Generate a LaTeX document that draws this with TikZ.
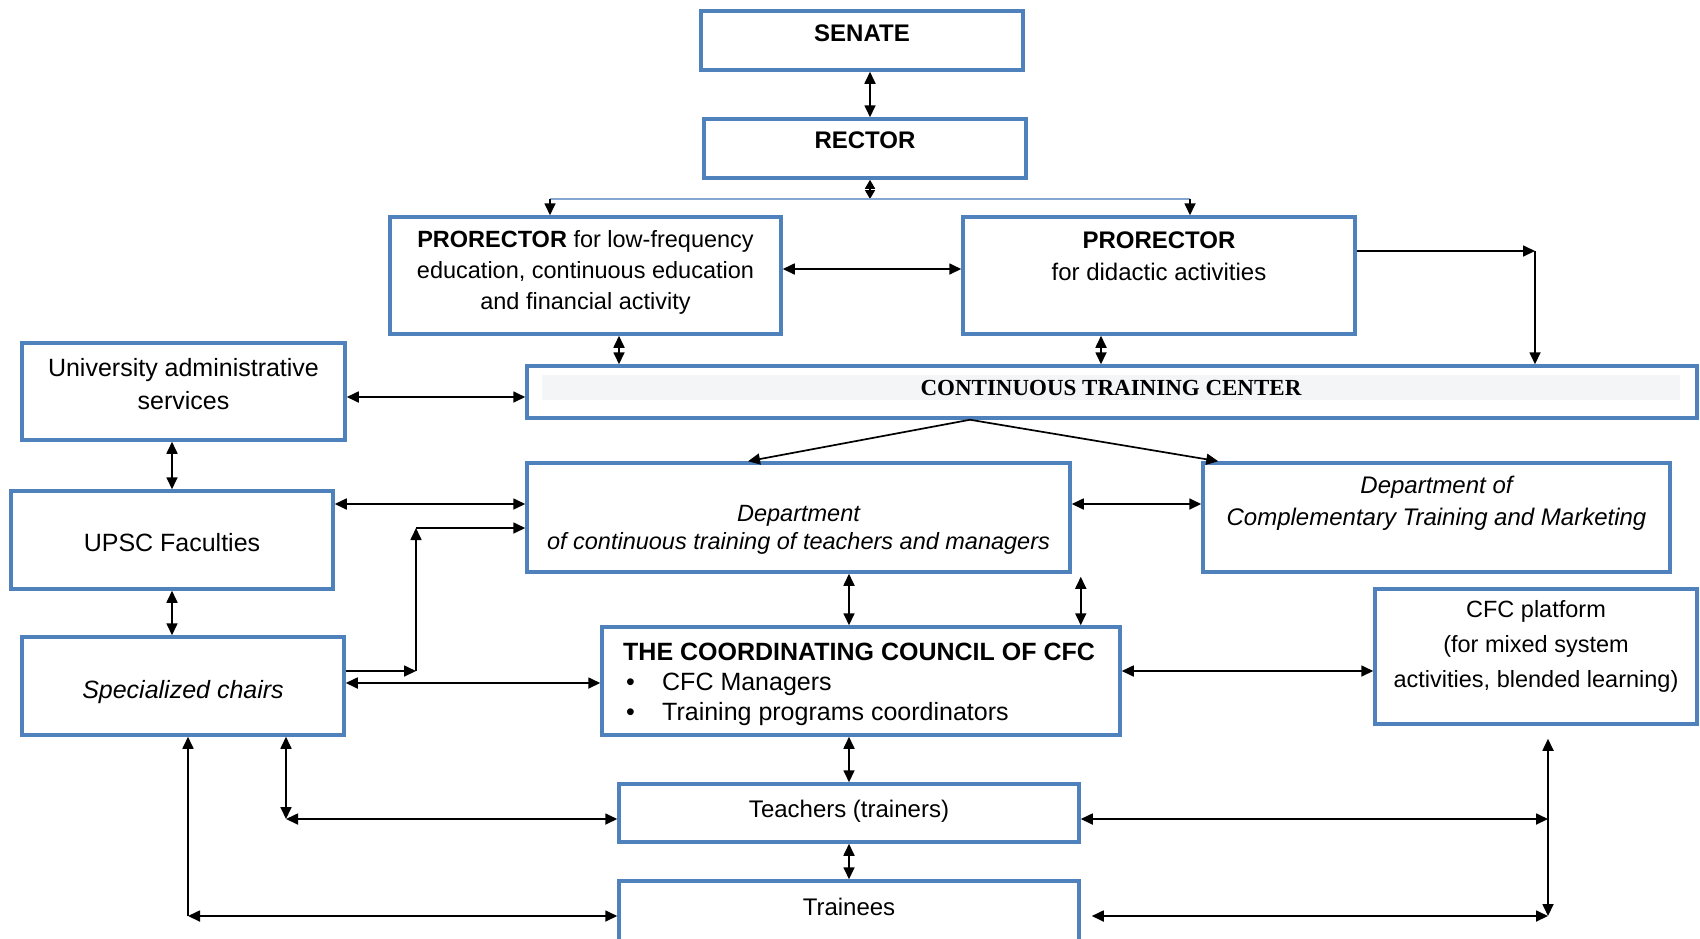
\documentclass[tikz,border=0pt]{standalone}
\usepackage{fontspec}
\setmainfont{Liberation Sans}
\newfontfamily\ctcfont{Liberation Serif}
\usetikzlibrary{arrows.meta}
\definecolor{boxblue}{RGB}{79,129,189}
\definecolor{bandgray}{RGB}{244,245,247}

\tikzset{
	box/.style={draw=boxblue, line width=3.5pt, inner sep=0pt},
	txt/.style={inner sep=0pt, align=center, font=\fontsize{24}{31}\selectfont},
	bigtxt/.style={font=\fontsize{25}{33}\selectfont},
	arr/.style={-{Triangle[length=12pt,width=11pt]}, line width=1.7pt},
	dbl/.style={{Triangle[length=12pt,width=11pt]}-{Triangle[length=12pt,width=11pt]}, line width=1.7pt},
	dblshort/.style={{Triangle[length=9pt,width=10pt]}-{Triangle[length=9pt,width=10pt]}, line width=1.7pt},
	forkline/.style={draw=boxblue!70, line width=1.2pt}
}

\begin{document}
\begin{tikzpicture}[x=1pt, y=-1pt]
	\useasboundingbox (0,0) rectangle (1700,938);

	\node (senate) [box, minimum width=322pt, minimum height=59pt] at (862,40.5) {};
	\node (rector) [box, minimum width=322pt, minimum height=59pt] at (865,148.5) {};
	\node (proA) [box, minimum width=391pt, minimum height=117pt] at (585.5,275.5) {};
	\node (proB) [box, minimum width=392pt, minimum height=117pt] at (1159,275.5) {};
	\node (ctc) [box, minimum width=1170pt, minimum height=52pt] at (1112,392) {};
	\node (admin) [box, minimum width=323pt, minimum height=97pt] at (183.5,391.5) {};
	\node (fac) [box, minimum width=322pt, minimum height=98pt] at (172,540) {};
	\node (chairs) [box, minimum width=322pt, minimum height=98pt] at (183,686) {};
	\node (dep1) [box, minimum width=543pt, minimum height=109pt] at (798.5,517.5) {};
	\node (dep2) [box, minimum width=467pt, minimum height=109pt] at (1436.5,517.5) {};
	\node (council) [box, minimum width=518pt, minimum height=108pt] at (861,681) {};
	\node (platf) [box, minimum width=322pt, minimum height=135pt] at (1536,656.5) {};
	\node (teach) [box, minimum width=460pt, minimum height=58pt] at (849,813) {};
	\node (train) [box, minimum width=460pt, minimum height=79pt] at (849,920.5) {};

	\node (senateT) [txt] at ([yshift=7pt]senate.center) {\textbf{SENATE}};
	\node (rectorT) [txt] at ([yshift=8pt]rector.center) {\textbf{RECTOR}};
	\node (proAT) [txt, font=\fontsize{23.5}{31}\selectfont] at ([yshift=3.5pt]proA.center)
		{\textbf{PRORECTOR} for low-frequency\\education, continuous education\\and financial activity};
	\node (proBT) [txt, font=\fontsize{24}{32}\selectfont] at ([yshift=19pt]proB.center)
		{\textbf{PRORECTOR}\\for didactic activities};
	\node (ctcT) [fill=bandgray, minimum width=1138pt, minimum height=25pt, inner sep=0pt,
		font=\ctcfont\bfseries\fontsize{23}{26}\selectfont] at (1111,387.5) {CONTINUOUS TRAINING CENTER};
	\node (adminT) [txt, bigtxt] at ([yshift=7pt]admin.center) {University administrative\\services};
	\node (facT) [txt, bigtxt] at ([yshift=-3pt]fac.center) {UPSC Faculties};
	\node (chairsT) [txt, bigtxt] at ([yshift=-6.5pt]chairs.center) {\itshape Specialized chairs};
	\node (dep1T) [txt, font=\fontsize{23.5}{28}\itshape\selectfont] at ([yshift=-12pt]dep1.center)
		{Department\\of continuous training of teachers and managers};
	\node (dep2T) [txt, font=\fontsize{24}{32}\itshape\selectfont] at ([yshift=14pt]dep2.center)
		{Department of\\Complementary Training and Marketing};
	\node (councilT) [txt, align=left, anchor=west, font=\fontsize{25}{30}\selectfont] at (623,684)
		{\textbf{THE COORDINATING COUNCIL OF CFC}\\
		\makebox[39pt][l]{\hspace*{3pt}\textbullet}CFC Managers\\
		\makebox[39pt][l]{\hspace*{3pt}\textbullet}Training programs coordinators};
	\node (platfT) [txt, font=\fontsize{23.5}{35}\selectfont] at ([yshift=10pt]platf.center)
		{CFC platform\\(for mixed system\\activities, blended learning)};
	\node (teachT) [txt] at ([yshift=2pt]teach.center) {Teachers (trainers)};
	\node (trainT) [txt] at (849,907) {Trainees};

	\coordinate (fork) at (870,199);
	\coordinate (bend) at (1535,251);
	\coordinate (kneeA) at (416,671);
	\coordinate (kneeB) at (416,528);
	\coordinate (cornerA) at (188,916);
	\coordinate (cornerB) at (286,819);
	\coordinate (cornerC) at (1548,916);

	\draw[dbl] ([xshift=8pt]senate.south) -- ([xshift=5pt]rector.north);
	\draw[dblshort] ([xshift=5pt]rector.south) -- (fork);
	\draw[forkline] ([xshift=-35.5pt]proA.north |- fork) -- ([xshift=31pt]proB.north |- fork);
	\draw[arr] ([xshift=-35.5pt]proA.north |- fork) -- ([xshift=-35.5pt]proA.north);
	\draw[arr] ([xshift=31pt]proB.north |- fork) -- ([xshift=31pt]proB.north);
	\draw[dbl] ([yshift=6.5pt]proA.east) -- ([yshift=6.5pt]proB.west);
	\draw[arr] ([yshift=24.5pt]proB.east) -- (bend);
	\draw[arr] (bend) -- (bend |- ctc.north);
	\draw[dbl] ([xshift=33.5pt]proA.south) -- ([xshift=33.5pt]proA.south |- ctc.north);
	\draw[dbl] ([xshift=-58pt]proB.south) -- ([xshift=-58pt]proB.south |- ctc.north);
	\draw[dbl] ([yshift=-5.5pt]admin.east) -- ([yshift=-5.5pt]admin.east -| ctc.west);
	\draw[dbl] (admin.south -| fac.north) -- (fac.north);
	\draw[dbl] (fac.south) -- (fac.south |- chairs.north);
	\draw[dbl] ([yshift=36pt]fac.east) -- ([yshift=36pt]fac.east -| dep1.west);
	\draw[arr] ([yshift=15pt]chairs.east) -- (kneeA);
	\draw[arr] (kneeA) -- (kneeB);
	\draw[arr] (kneeB) -- (kneeB -| dep1.west);
	\draw[dbl] ([yshift=3pt]chairs.east) -- ([yshift=3pt]chairs.east -| council.west);
	\draw[arr] ([xshift=-142pt]ctc.south) -- ([xshift=-50.5pt]dep1.north);
	\draw[arr] ([xshift=-142pt]ctc.south) -- ([xshift=17pt]dep2.north west);
	\draw[dbl] ([yshift=13.5pt]dep1.east) -- ([yshift=13.5pt]dep2.west);
	\draw[dbl] ([xshift=50.5pt]dep1.south) -- ([xshift=50.5pt]dep1.south |- council.north);
	\draw[dbl] ([xshift=9pt,yshift=-3pt]dep1.south east) -- ([xshift=9pt]dep1.south east |- council.north);
	\draw[dbl] ([yshift=10pt]council.east) -- ([yshift=10pt]council.east -| platf.west);
	\draw[dbl] (council.south -| teach.north) -- (teach.north);
	\draw[dbl] (teach.south) -- (train.north);
	\draw[arr] (cornerA) -- (cornerA |- chairs.south);
	\draw[dbl] (cornerA) -- (cornerA -| train.west);
	\draw[dbl] (cornerB |- chairs.south) -- (cornerB);
	\draw[dbl] (cornerB) -- (cornerB -| teach.west);
	\draw[dbl] ([yshift=-13pt]platf.south -| cornerC) -- (cornerC);
	\draw[dbl] ([yshift=-6pt]teach.east) -- ([yshift=-6pt]teach.east -| cornerC);
	\draw[dbl] ([xshift=11pt]train.east |- cornerC) -- (cornerC);
\end{tikzpicture}
\end{document}
